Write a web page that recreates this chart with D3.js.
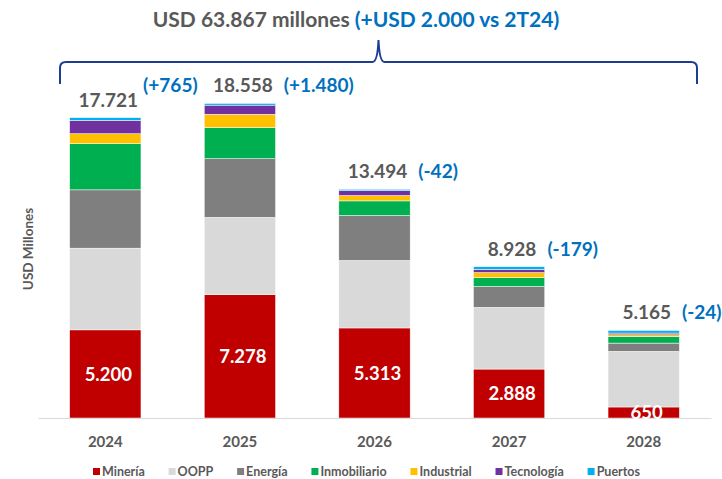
<!DOCTYPE html>
<html>
<head>
<meta charset="utf-8">
<script src="https://cdn.jsdelivr.net/npm/d3@7"></script>
<style>
  body { margin: 0; background: #fff; }
  svg { font-family: Lato, "Open Sans", sans-serif; }
</style>
</head>
<body>
<svg width="722" height="479"></svg>
<script>
var years = ["2024", "2025", "2026", "2027", "2028"];
var sectors = ["Minería", "OOPP", "Energía", "Inmobiliario", "Industrial", "Tecnología", "Puertos"];
var sectorColors = ["#C00000", "#D9D9D9", "#7F7F7F", "#00B050", "#FFC000", "#7030A0", "#00B0F0"];

// USD millones por sector y año
var mineria      = [5200, 7278, 5313, 2888, 650];
var oopp         = [4820, 4560, 3980, 3640, 3280];
var energia      = [3440, 3460, 2650, 1230, 490];
var inmobiliario = [2720, 1840, 865, 530, 390];
var industrial   = [590, 780, 315, 290, 100];
var tecnologia   = [790, 540, 290, 195, 100];
var puertos      = [161, 100, 81, 155, 155];

var deltas = ["(+765)", "(+1.480)", "(-42)", "(-179)", "(-24)"];
var titleMain = "USD 63.867 millones ";
var titleDelta = "(+USD 2.000 vs 2T24)";
var yTitle = "USD Millones";

var series = [mineria, oopp, energia, inmobiliario, industrial, tecnologia, puertos];

var gray = "#595959", blue = "#0070C0", braceColor = "#1F3C93";

var svg = d3.select("svg");

var fmt = d3.formatLocale({decimal: ",", thousands: ".", grouping: [3], currency: ["", ""]}).format(",d");

var data = years.map(function(y, i) {
  var row = {year: y, i: i};
  sectors.forEach(function(s, k) { row[s] = series[k][i]; });
  return row;
});

var x = d3.scaleBand().domain(years).range([38, 711]).paddingInner(0.47).paddingOuter(0.235),
    y = d3.scaleLinear().domain([0, 20000]).range([418, 79]);

var stacked = d3.stack().keys(sectors)(data);

// bars
var layers = svg.append("g").selectAll("g")
  .data(stacked)
  .enter().append("g")
  .attr("fill", function(d, k) { return sectorColors[k]; });

layers.selectAll("rect")
  .data(function(d) { return d; })
  .enter().append("rect")
  .attr("x", function(d) { return x(d.data.year); })
  .attr("y", function(d) { return y(d[1]); })
  .attr("width", x.bandwidth())
  .attr("height", function(d) { return y(d[0]) - y(d[1]); })
  .attr("stroke", "#fff")
  .attr("stroke-width", 0.5);

// axis
var axis = svg.append("g")
  .attr("transform", "translate(0,418)")
  .call(d3.axisBottom(x).tickSize(0).tickPadding(18));
axis.select(".domain").attr("stroke", "#D9D9D9");
axis.selectAll("text")
  .attr("font-family", "Lato, sans-serif")
  .attr("font-size", 15).attr("font-weight", "bold").attr("fill", gray);

// minería labels inside red segment
svg.append("g").selectAll("text")
  .data(stacked[0])
  .enter().append("text")
  .attr("x", function(d) { return x(d.data.year) + x.bandwidth() / 2 + 3; })
  .attr("y", function(d) { return (y(d[0]) + y(d[1])) / 2; })
  .attr("dy", "0.36em")
  .attr("text-anchor", "middle")
  .attr("font-size", 18.5).attr("font-weight", "bold").attr("fill", "#fff")
  .text(function(d) { return fmt(d.data["Minería"]); });

// totals + deltas
var topLayer = stacked[stacked.length - 1];
var totalLabels = svg.append("g").selectAll("text")
  .data(topLayer)
  .enter().append("text")
  .attr("x", function(d) { return x(d.data.year) + x.bandwidth() / 2 + 3; })
  .attr("y", function(d) { return y(d[1]) - 11; })
  .attr("text-anchor", "middle")
  .attr("font-size", 19).attr("font-weight", "bold").attr("fill", gray)
  .text(function(d) { return fmt(d[1]); });

totalLabels.each(function(d, i) {
  var bb = this.getBBox();
  svg.append("text")
    .attr("x", bb.x + bb.width + (i === 0 ? 5 : 11))
    .attr("y", y(d[1]) - 11 - (i === 0 ? 15 : 0))
    .attr("font-size", 19).attr("font-weight", "bold").attr("fill", blue)
    .text(deltas[i]);
});

// title
var title = svg.append("text")
  .attr("x", 356).attr("y", 27)
  .attr("text-anchor", "middle")
  .attr("font-size", 21).attr("font-weight", "bold");
title.append("tspan").attr("fill", gray).text(titleMain);
title.append("tspan").attr("fill", blue).text(titleDelta);

// brace
var bl = 60, br = 697, bm = (bl + br) / 2, by = 62;
var brace = d3.path();
brace.moveTo(bl, 84);
brace.lineTo(bl, by + 6);
brace.quadraticCurveTo(bl, by, bl + 6, by);
brace.lineTo(bm - 6, by);
brace.quadraticCurveTo(bm - 1, by, bm, 40);
brace.quadraticCurveTo(bm + 1, by, bm + 6, by);
brace.lineTo(br - 6, by);
brace.quadraticCurveTo(br, by, br, by + 6);
brace.lineTo(br, 84);
svg.append("path")
  .attr("d", brace.toString())
  .attr("fill", "none")
  .attr("stroke", braceColor)
  .attr("stroke-width", 2);

// y title
svg.append("text")
  .attr("transform", "translate(33,249) rotate(-90)")
  .attr("text-anchor", "middle")
  .attr("font-size", 13.5).attr("font-weight", "bold").attr("fill", gray)
  .text(yTitle);

// legend, spread between 93 and 640
var legend = svg.append("g");
var items = sectors.map(function(s, k) {
  var g = legend.append("g");
  g.append("rect")
    .attr("y", 468).attr("width", 7).attr("height", 7)
    .attr("fill", sectorColors[k]);
  var t = g.append("text")
    .attr("x", 9).attr("y", 476)
    .attr("font-size", 12.5).attr("font-weight", "bold").attr("fill", gray)
    .text(s);
  return {g: g, w: 9 + t.node().getComputedTextLength()};
});
var used = d3.sum(items, function(d) { return d.w; });
var gap = (640 - 93 - used) / (items.length - 1);
var lx = 93;
items.forEach(function(it) {
  it.g.attr("transform", "translate(" + lx + ",0)");
  lx += it.w + gap;
});
</script>
</body>
</html>
